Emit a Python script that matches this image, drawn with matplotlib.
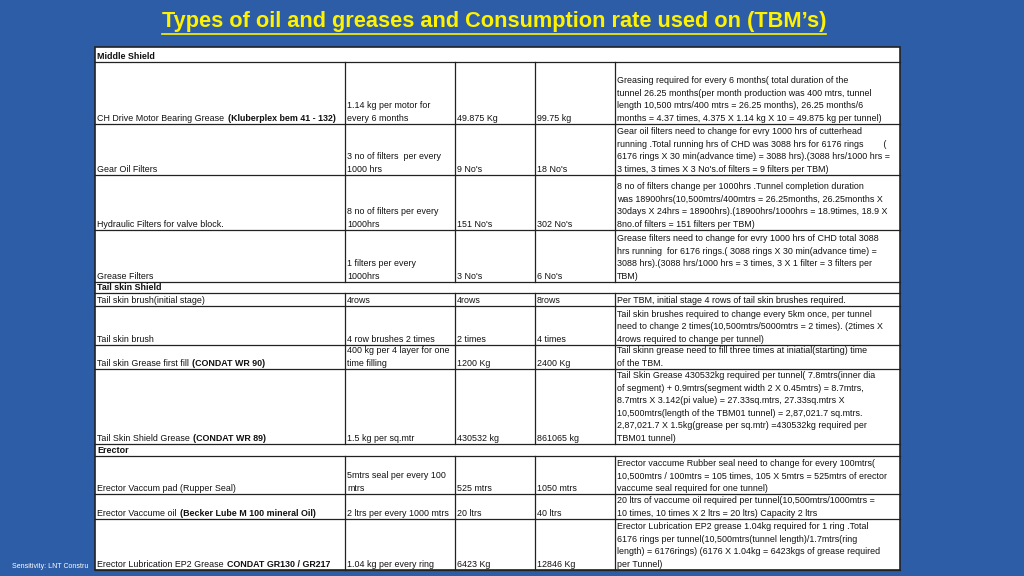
import matplotlib.pyplot as plt
from matplotlib.patches import Rectangle

TITLE = "Types of oil and greases and Consumption rate used on (TBM’s)"
FOOTER = "Sensitivity: LNT Constru"  # rest of the footer is hidden behind the table

col_edges = [95, 345, 455, 535, 615, 900]
row_edges = [47, 62, 124, 175, 230, 282, 293, 306, 345, 369, 444, 456, 494, 519, 570]

# each row: (item name, bold part, quantity/usage lines, per-TBM qty, total qty, remark lines) or section title
rows = [
    "Middle Shield",
    ("CH Drive Motor Bearing Grease ", "(Kluberplex bem 41 - 132)", ["1.14 kg per motor for", "every 6 months"], "49.875 Kg", "99.75 kg",
     ["Greasing required for every 6 months( total duration of the",
      "tunnel 26.25 months(per month production was 400 mtrs, tunnel",
      "length 10,500 mtrs/400 mtrs = 26.25 months), 26.25 months/6",
      "months = 4.37 times, 4.375 X 1.14 kg X 10 = 49.875 kg per tunnel)"]),
    ("Gear Oil Filters", "", ["3 no of filters  per every", "1000 hrs"], "9 No's", "18 No's",
     ["Gear oil filters need to change for evry 1000 hrs of cutterhead",
      "running .Total running hrs of CHD was 3088 hrs for 6176 rings        (",
      "6176 rings X 30 min(advance time) = 3088 hrs).(3088 hrs/1000 hrs =",
      "3 times, 3 times X 3 No's.of filters = 9 filters per TBM)"]),
    ("Hydraulic Filters for valve block.", "", ["8 no of filters per every", "1000hrs"], "151 No's", "302 No's",
     ["8 no of filters change per 1000hrs .Tunnel completion duration",
      "was 18900hrs(10,500mtrs/400mtrs = 26.25months, 26.25months X",
      "30days X 24hrs = 18900hrs).(18900hrs/1000hrs = 18.9times, 18.9 X",
      "8no.of filters = 151 filters per TBM)"]),
    ("Grease Filters", "", ["1 filters per every", "1000hrs"], "3 No's", "6 No's",
     ["Grease filters need to change for evry 1000 hrs of CHD total 3088",
      "hrs running  for 6176 rings.( 3088 rings X 30 min(advance time) =",
      "3088 hrs).(3088 hrs/1000 hrs = 3 times, 3 X 1 filter = 3 filters per",
      "TBM)"]),
    "Tail skin Shield",
    ("Tail skin brush(initial stage)", "", ["4rows"], "4rows", "8rows",
     ["Per TBM, initial stage 4 rows of tail skin brushes required."]),
    ("Tail skin brush", "", ["4 row brushes 2 times"], "2 times", "4 times",
     ["Tail skin brushes required to change every 5km once, per tunnel",
      "need to change 2 times(10,500mtrs/5000mtrs = 2 times). (2times X",
      "4rows required to change per tunnel)"]),
    ("Tail skin Grease first fill ", "(CONDAT WR 90)", ["400 kg per 4 layer for one", "time filling"], "1200 Kg", "2400 Kg",
     ["Tail skinn grease need to fill three times at iniatial(starting) time",
      "of the TBM."]),
    ("Tail Skin Shield Grease ", "(CONDAT WR 89)", ["1.5 kg per sq.mtr"], "430532 kg", "861065 kg",
     ["Tail Skin Grease 430532kg required per tunnel( 7.8mtrs(inner dia",
      "of segment) + 0.9mtrs(segment width 2 X 0.45mtrs) = 8.7mtrs,",
      "8.7mtrs X 3.142(pi value) = 27.33sq.mtrs, 27.33sq.mtrs X",
      "10,500mtrs(length of the TBM01 tunnel) = 2,87,021.7 sq.mtrs.",
      "2,87,021.7 X 1.5kg(grease per sq.mtr) =430532kg required per",
      "TBM01 tunnel)"]),
    "Erector",
    ("Erector Vaccum pad (Rupper Seal)", "", ["5mtrs seal per every 100", "mtrs"], "525 mtrs", "1050 mtrs",
     ["Erector vaccume Rubber seal need to change for every 100mtrs(",
      "10,500mtrs / 100mtrs = 105 times, 105 X 5mtrs = 525mtrs of erector",
      "vaccume seal required for one tunnel)"]),
    ("Erector Vaccume oil ", "(Becker Lube M 100 mineral Oil)", ["2 ltrs per every 1000 mtrs"], "20 ltrs", "40 ltrs",
     ["20 ltrs of vaccume oil required per tunnel(10,500mtrs/1000mtrs =",
      "10 times, 10 times X 2 ltrs = 20 ltrs) Capacity 2 ltrs"]),
    ("Erector Lubrication EP2 Grease ", "CONDAT GR130 / GR217", ["1.04 kg per every ring"], "6423 Kg", "12846 Kg",
     ["Erector Lubrication EP2 grease 1.04kg required for 1 ring .Total",
      "6176 rings per tunnel(10,500mtrs(tunnel length)/1.7mtrs(ring",
      "length) = 6176rings) (6176 X 1.04kg = 6423kgs of grease required",
      "per Tunnel)"]),
]

BG = "#2D5DA6"
FS = 6.4
LH = 12.6
plt.rcParams["font.family"] = "Liberation Sans"

fig = plt.figure(figsize=(10.24, 5.76), dpi=100, facecolor=BG)
ax = fig.add_axes([0, 0, 1, 1])
ax.set_xlim(0, 1024)
ax.set_ylim(576, 0)
ax.axis("off")
ax.set_facecolor(BG)

t = ax.text(494, 22, TITLE, color="#FFF200", fontsize=15.7, fontweight="bold",
            ha="center", va="center")
fig.canvas.draw()
r = fig.canvas.get_renderer()
bb = t.get_window_extent(r).transformed(ax.transData.inverted())
ax.plot([bb.x0, bb.x1], [34, 34], color="#FFF200", lw=1.2)

ax.text(12, 567, FOOTER, color="white", fontsize=5, va="center", zorder=1)

ax.add_patch(Rectangle((col_edges[0], row_edges[0]), col_edges[-1] - col_edges[0],
                       row_edges[-1] - row_edges[0], facecolor="white",
                       edgecolor="#222222", lw=1.2, zorder=2))


def lines_in(x, bottom, lines, bold=False):
    for i, s in enumerate(reversed(lines)):
        ax.text(x + 2, bottom - 3 - i * LH, s, fontsize=FS, va="baseline", zorder=4,
                fontweight="bold" if bold else "normal", color="#111111")


for i, row in enumerate(rows):
    top, bot = row_edges[i], row_edges[i + 1]
    ax.plot([col_edges[0], col_edges[-1]], [bot, bot], color="#222222", lw=0.9, zorder=3)
    if isinstance(row, str):
        lines_in(col_edges[0], bot, [row], bold=True)
        continue
    for x in col_edges[1:-1]:
        ax.plot([x, x], [top, bot], color="#222222", lw=0.9, zorder=3)
    name, boldpart, q1, q2, q3, remark = row
    tn = ax.text(col_edges[0] + 2, bot - 3, name, fontsize=FS, va="baseline", zorder=4, color="#111111")
    if boldpart:
        fig.canvas.draw()
        e = tn.get_window_extent(r).transformed(ax.transData.inverted())
        ax.text(e.x1 + 1, bot - 3, boldpart, fontsize=FS, fontweight="bold",
                va="baseline", zorder=4, color="#111111")
    lines_in(col_edges[1], bot, q1)
    lines_in(col_edges[2], bot, [q2])
    lines_in(col_edges[3], bot, [q3])
    lines_in(col_edges[4], bot, remark)

fig.savefig("out.png", dpi=100, facecolor=BG)
